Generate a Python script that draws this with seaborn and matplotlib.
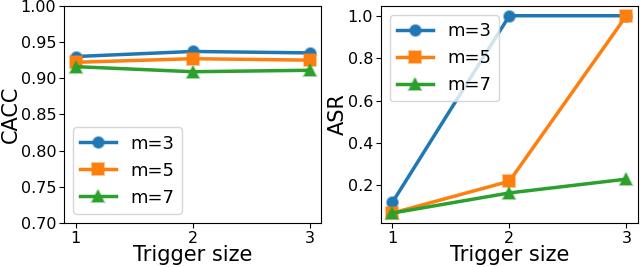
import matplotlib
matplotlib.use("Agg")
import matplotlib.pyplot as plt
import seaborn as sns
import pandas as pd
from matplotlib.colors import to_rgba

trigger_sizes = [1, 2, 3]
groups = ["m=3", "m=5", "m=7"]
cacc_m3 = [0.930, 0.937, 0.935]
cacc_m5 = [0.922, 0.927, 0.925]
cacc_m7 = [0.916, 0.909, 0.911]
asr_m3 = [0.12, 1.0, 1.0]
asr_m5 = [0.07, 0.22, 1.0]
asr_m7 = [0.07, 0.165, 0.23]

colors = ["#1f77b4", "#ff7f0e", "#2ca02c"]
markers = ["o", "s", "^"]

def frame(vals_list):
    rows = []
    for g, vals in zip(groups, vals_list):
        for x, v in zip(trigger_sizes, vals):
            rows.append({"Trigger size": x, "value": v, "m": g})
    return pd.DataFrame(rows)

df_cacc = frame([cacc_m3, cacc_m5, cacc_m7])
df_asr = frame([asr_m3, asr_m5, asr_m7])

fig, axes = plt.subplots(1, 2, figsize=(6.4, 2.67), dpi=100)
plt.subplots_adjust(left=0.1, right=0.997, bottom=0.165, top=0.978, wspace=0.23)

for ax, df, ylabel in [(axes[0], df_cacc, "CACC"), (axes[1], df_asr, "ASR")]:
    for g, c, mk in zip(groups, colors, markers):
        sub = df[df["m"] == g]
        sns.lineplot(data=sub, x="Trigger size", y="value", ax=ax, color=c,
                     marker=mk, markersize=8, linewidth=2.5, label=g,
                     markerfacecolor=c, markeredgecolor=to_rgba(c, 0.45),
                     markeredgewidth=1.5)
    ax.set_xticks(trigger_sizes)
    ax.set_xlabel("Trigger size", fontsize=15, labelpad=-0.5)
    ax.set_ylabel(ylabel, fontsize=15, labelpad=0)
    ax.tick_params(labelsize=11.5, pad=2)

axes[0].set_ylim(0.70, 1.00)
axes[0].set_yticks([0.70, 0.75, 0.80, 0.85, 0.90, 0.95, 1.00])
axes[0].legend(loc="lower left", fontsize=13)
axes[1].set_yticks([0.2, 0.4, 0.6, 0.8, 1.0])
axes[1].legend(loc="upper left", fontsize=13)

fig.savefig("out.png", dpi=100)
